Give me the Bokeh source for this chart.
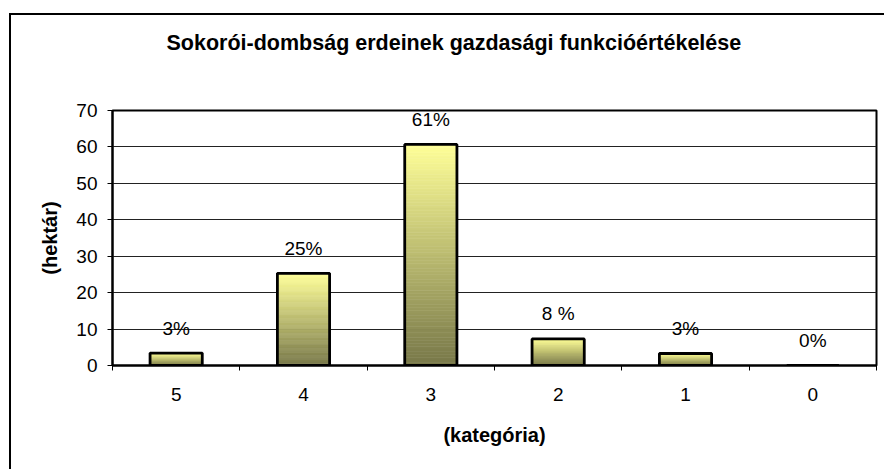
from bokeh.plotting import figure
from bokeh.models import FixedTicker, Range1d, Title
from bokeh.embed import file_html
from bokeh.resources import INLINE
from bokeh.core.properties import value

# ---- data ----
categories = ["5", "4", "3", "2", "1", "0"]
hectares = [3.4, 25.3, 60.7, 7.3, 3.3, 0.0]
pct_labels = ["3%", "25%", "61%", "8 %", "3%", "0%"]
y_ticks = [0, 10, 20, 30, 40, 50, 60, 70]
title_text = "Sokorói-dombság erdeinek gazdasági funkcióértékelése"

# ---- style ----
FONT = "Liberation Sans"
TOP_RGB = (255, 255, 153)
BOTTOM_RGB = (119, 119, 72)
N_SLICES = 80
BAR_W = 0.41

xs = [i + 0.5 for i in range(len(categories))]

p = figure(width=884, height=469, output_backend="svg", toolbar_location=None,
           x_range=Range1d(0, len(categories)), y_range=Range1d(0, 70),
           min_border_left=112, min_border_top=110, min_border_right=8,
           min_border_bottom=104)

# outer chart-area border (only its left and top edges fall inside the window)
p.styles = {
    "background": ("linear-gradient(#000, #000) 9px 13px / 2px 100% no-repeat, "
                   "linear-gradient(#000, #000) 9px 13px / 100% 2px no-repeat, "
                   "#ffffff"),
}
p.border_fill_alpha = 0

# gradient bars built from slices
gx, gb, gt, gc = [], [], [], []
for x, v in zip(xs, hectares):
    if v <= 0:
        continue
    for k in range(N_SLICES):
        f = (k + 0.5) / N_SLICES
        r = int(round(BOTTOM_RGB[0] + (TOP_RGB[0] - BOTTOM_RGB[0]) * f))
        g = int(round(BOTTOM_RGB[1] + (TOP_RGB[1] - BOTTOM_RGB[1]) * f))
        b = int(round(BOTTOM_RGB[2] + (TOP_RGB[2] - BOTTOM_RGB[2]) * f))
        gx.append(x)
        gb.append(v * k / N_SLICES)
        gt.append(v * (k + 1) / N_SLICES)
        gc.append("#%02x%02x%02x" % (r, g, b))
p.vbar(x=gx, bottom=gb, top=gt, width=BAR_W, fill_color=gc, line_color=gc,
       line_width=0.6)
# outlines
p.vbar(x=xs, top=hectares, width=BAR_W, fill_alpha=0, line_color="black",
       line_width=2.8)

# data labels
p.text(x=xs, y=hectares, text=pct_labels, text_align="center",
       text_baseline="alphabetic", y_offset=-25, text_font=value(FONT),
       text_font_size="19px", text_color="black")

# real title (outermost) plus a blank spacer title next to the frame
p.title.text = title_text
p.title.text_font = FONT
p.title.text_font_size = "21.5px"
p.title.text_font_style = "bold"
p.title.align = "left"
p.title.offset = 54
p.title.standoff = 10
p.title.text_color = "black"
spacer = Title(text="\u00a0", text_font=FONT, text_font_size="10px", standoff=38)
p.add_layout(spacer, "above")

# axes
p.xaxis.ticker = FixedTicker(ticks=xs, minor_ticks=list(range(len(categories) + 1)))
p.xaxis.major_label_overrides = {x: c for x, c in zip(xs, categories)}
p.xaxis.major_tick_line_color = None
p.xaxis.minor_tick_line_color = "black"
p.xaxis.minor_tick_out = 5
p.xaxis.minor_tick_in = 0
p.xaxis.axis_label = "(kategória)"

p.yaxis.ticker = FixedTicker(ticks=y_ticks)
p.yaxis.major_tick_out = 5
p.yaxis.major_tick_in = 0
p.yaxis.minor_tick_line_color = None
p.yaxis.axis_label = "(hektár)"

for ax in (p.xaxis[0], p.yaxis[0]):
    ax.axis_line_color = "black"
    ax.axis_line_width = 2
    ax.major_label_text_font = FONT
    ax.major_label_text_font_size = "19px"
    ax.major_label_text_color = "black"
    ax.axis_label_text_font = FONT
    ax.axis_label_text_font_size = "20px"
    ax.axis_label_text_font_style = "bold"
    ax.axis_label_text_color = "black"
p.xaxis.major_label_standoff = 16
p.xaxis.axis_label_standoff = 20
p.yaxis.major_label_standoff = 10
p.yaxis.axis_label_standoff = 12

p.xgrid.visible = False
p.ygrid.ticker = FixedTicker(ticks=y_ticks)
p.ygrid.grid_line_color = "#222222"
p.ygrid.grid_line_width = 1

p.outline_line_color = "black"
p.outline_line_width = 2
p.background_fill_color = "white"

open("out.html", "w").write(file_html(p, INLINE))
